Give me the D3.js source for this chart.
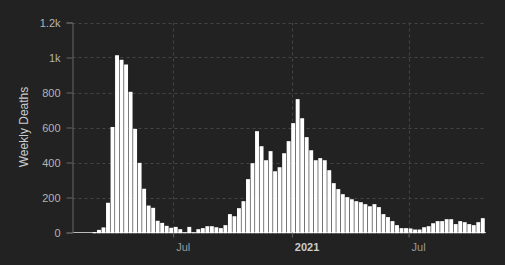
<!DOCTYPE html>
<html>
<head>
<meta charset="utf-8">
<script src="https://cdn.jsdelivr.net/npm/d3@7"></script>
<style>
  html, body { margin: 0; padding: 0; background: #222222; }
  svg { display: block; }
</style>
</head>
<body>
<svg id="chart" width="505" height="265"></svg>
<script>
// weekly deaths, one bar per week starting 2020-02-27
const firstWeek = "2020-02-27";
const weeklyDeaths = [
  2, 15, 29, 170, 603, 1013, 987, 960, 804, 592, 398, 250, 154, 141, 67, 55, 38, 27,
  32, 19, 0, 32, 0, 19, 25, 36, 36, 30, 25, 42, 105, 93, 139, 179, 305, 396, 579,
  493, 413, 465, 350, 373, 453, 522, 625, 762, 653, 545, 470, 413, 425, 413, 356,
  282, 248, 219, 202, 190, 179, 173, 162, 150, 162, 145, 105, 88, 65, 42, 25, 25,
  23, 17, 17, 30, 36, 53, 65, 65, 76, 76, 48, 65, 59, 48, 42, 59, 82
];

const yTicks = [0, 200, 400, 600, 800, 1000, 1200];
const yTickLabels = ["0", "200", "400", "600", "800", "1k", "1.2k"];
const xTickDates = ["2020-07-01", "2021-01-01", "2021-07-01"];
const xTickLabels = ["Jul", "2021", "Jul"];
const xDomain = ["2020-01-27", "2021-10-29"];

const parse = d3.timeParse("%Y-%m-%d");
const start = parse(firstWeek);
const data = weeklyDeaths.map((v, i) => ({ week: d3.timeDay.offset(start, 7 * i), value: v }));

const svg = d3.select("#chart");
const plot = { left: 72.5, right: 486, top: 22.5, bottom: 232.5 };

const x = d3.scaleTime()
  .domain(xDomain.map(parse))
  .range([plot.left, plot.right]);

const y = d3.scaleLinear()
  .domain([0, 1200])
  .range([plot.bottom, plot.top]);

// horizontal grid
svg.append("g")
  .selectAll("line")
  .data(yTicks.slice(1))
  .enter()
  .append("line")
    .attr("x1", plot.left)
    .attr("x2", plot.right)
    .attr("y1", d => Math.round(y(d)) + 0.5)
    .attr("y2", d => Math.round(y(d)) + 0.5)
    .style("stroke", "#444")
    .style("stroke-dasharray", "3,3");

// vertical grid
svg.append("g")
  .selectAll("line")
  .data(xTickDates.map(parse))
  .enter()
  .append("line")
    .attr("x1", d => Math.round(x(d)) + 0.5)
    .attr("x2", d => Math.round(x(d)) + 0.5)
    .attr("y1", plot.top)
    .attr("y2", plot.bottom)
    .style("stroke", "#444")
    .style("stroke-dasharray", "3,3");

// baseline
svg.append("line")
  .attr("x1", plot.left)
  .attr("x2", plot.right)
  .attr("y1", plot.bottom)
  .attr("y2", plot.bottom)
  .style("stroke", "#bbb")
  .style("stroke-width", 1);

// bars
svg.append("g")
  .selectAll("rect")
  .data(data)
  .enter()
  .append("rect")
    .attr("x", d => x(d.week))
    .attr("width", d => x(d3.timeDay.offset(d.week, 7)) - x(d.week) - 0.6)
    .attr("y", d => y(d.value))
    .attr("height", d => y(0) - y(d.value) + 0.8)
    .style("fill", "#fff");

// y axis
const yAxis = svg.append("g")
  .attr("transform", `translate(${plot.left},0)`)
  .call(d3.axisLeft(y)
    .tickValues(yTicks)
    .tickFormat((d, i) => yTickLabels[i])
    .tickSize(6)
    .tickPadding(6));
yAxis.select(".domain").style("stroke", "#666");
yAxis.selectAll(".tick line").style("stroke", "#666");
yAxis.selectAll("text")
  .style("fill", "#b4b4b4")
  .style("font-family", "'Liberation Sans', Arial, sans-serif")
  .style("font-size", "11px");

// x axis
const xAxis = svg.append("g")
  .attr("transform", `translate(0,${plot.bottom})`)
  .call(d3.axisBottom(x)
    .tickValues(xTickDates.map(parse))
    .tickFormat((d, i) => xTickLabels[i])
    .tickSize(5)
    .tickPadding(6));
xAxis.select(".domain").remove();
xAxis.selectAll(".tick line").style("stroke", "#666");
xAxis.selectAll("text")
  .attr("text-anchor", "start")
  .attr("dx", 2.5)
  .style("font-family", "'Liberation Sans', Arial, sans-serif")
  .style("font-size", "11px")
  .style("font-weight", (d, i) => xTickLabels[i].length === 4 ? "bold" : "normal")
  .style("fill", (d, i) => xTickLabels[i].length === 4 ? "#ccc" : "#999");

// y title
svg.append("text")
  .attr("transform", `translate(27.5,127) rotate(-90)`)
  .attr("text-anchor", "middle")
  .style("fill", "#ccc")
  .style("font-family", "'Liberation Sans', Arial, sans-serif")
  .style("font-size", "12px")
  .text("Weekly Deaths");
</script>
</body>
</html>
